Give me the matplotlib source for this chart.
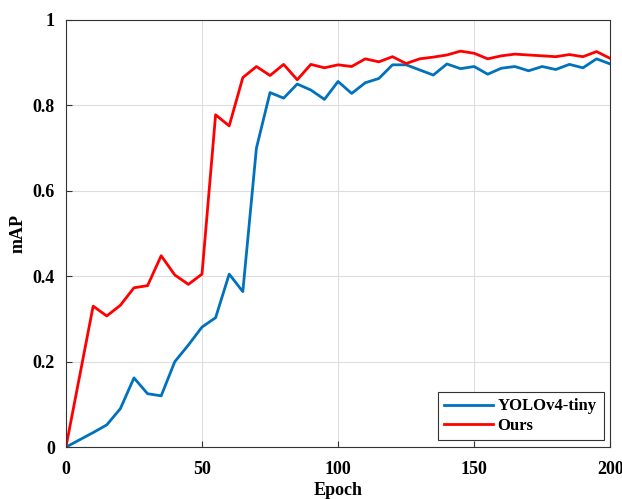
import matplotlib.pyplot as plt
import numpy as np

# values
epochs = [0, 10, 15, 20, 25, 30, 35, 40, 45, 50, 55, 60, 65, 70, 75, 80, 85, 90, 95,
          100, 105, 110, 115, 120, 125, 130, 135, 140, 145, 150, 155, 160, 165, 170,
          175, 180, 185, 190, 195, 200]
yolo = [0.0, 0.034, 0.052, 0.09, 0.162, 0.125, 0.12, 0.2, 0.239, 0.281, 0.303, 0.405,
        0.364, 0.70, 0.83, 0.817, 0.85, 0.836, 0.814, 0.856, 0.828, 0.853, 0.863,
        0.895, 0.895, 0.883, 0.871, 0.897, 0.886, 0.891, 0.873, 0.887, 0.891, 0.881,
        0.891, 0.884, 0.896, 0.888, 0.909, 0.897]
ours = [0.0, 0.33, 0.307, 0.332, 0.373, 0.378, 0.448, 0.403, 0.381, 0.405, 0.778,
        0.752, 0.865, 0.891, 0.870, 0.896, 0.86, 0.896, 0.888, 0.895, 0.891, 0.909,
        0.902, 0.914, 0.898, 0.909, 0.913, 0.918, 0.927, 0.922, 0.909, 0.916, 0.920,
        0.918, 0.916, 0.914, 0.919, 0.914, 0.926, 0.910]

plt.rcParams['font.family'] = ['Liberation Serif', 'DejaVu Serif']
plt.rcParams['font.weight'] = 'bold'
plt.rcParams['font.size'] = 13

fig = plt.figure(figsize=(6.22, 4.99), dpi=100)
ax = fig.add_axes([0.106, 0.104, 0.875, 0.856])

ax.plot(epochs, yolo, color='#0072BD', lw=2, label='YOLOv4-tiny')
ax.plot(epochs, ours, color='#FF0000', lw=2, label='Ours')

ax.set_xlim(0, 200)
ax.set_ylim(0, 1)
ax.set_xticks(np.arange(0, 201, 50))
ax.set_yticks(np.arange(0, 1.01, 0.2))
ax.set_yticklabels(['0', '0.2', '0.4', '0.6', '0.8', '1'])
ax.tick_params(direction='in', length=4, color='#333333')
ax.tick_params(axis='x', pad=10)
ax.tick_params(axis='y', pad=8)
ax.grid(True, color='#dddddd', lw=0.8)
ax.set_axisbelow(True)
for s in ax.spines.values():
    s.set_color('#333333')
    s.set_linewidth(0.8)

ax.set_xlabel('Epoch', fontweight='bold', labelpad=3)
ax.set_ylabel('mAP', fontweight='bold', labelpad=4)

leg = ax.legend(loc='lower right', fancybox=False, edgecolor='#333333',
                framealpha=1, handlelength=2.9, handletextpad=0.3, fontsize=12,
                borderaxespad=0.4, labelspacing=0.2, borderpad=0.4)
leg.get_frame().set_linewidth(0.8)

plt.savefig('out.png', dpi=100)
